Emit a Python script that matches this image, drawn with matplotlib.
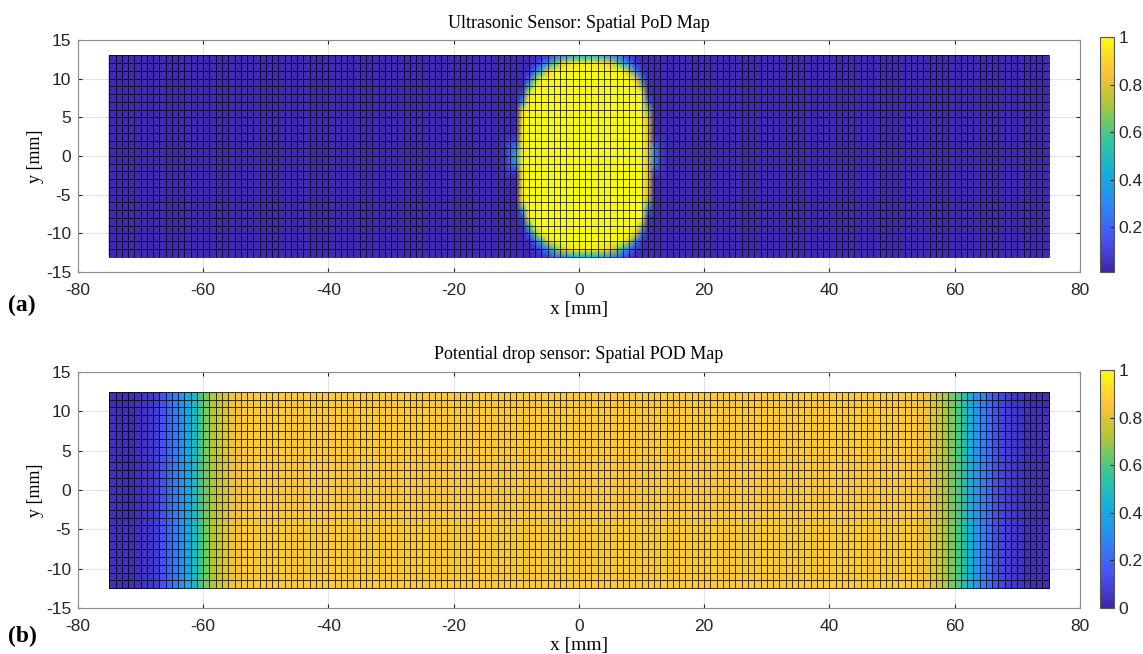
import numpy as np
import matplotlib
matplotlib.use("Agg")
import matplotlib.pyplot as plt
from matplotlib.colors import LinearSegmentedColormap
from matplotlib.collections import LineCollection
from matplotlib.ticker import FuncFormatter

plt.rcParams["axes.unicode_minus"] = False

# parula-like colour map (MATLAB default)
PARULA = LinearSegmentedColormap.from_list("parula", [
    (0.2422, 0.1504, 0.6603),
    (0.2810, 0.3228, 0.9579),
    (0.1786, 0.5289, 0.9682),
    (0.0689, 0.6948, 0.8394),
    (0.2161, 0.7843, 0.5923),
    (0.6720, 0.7793, 0.2227),
    (0.9970, 0.7659, 0.2199),
    (0.9769, 0.9839, 0.0805),
])

SERIF = "Liberation Serif"
SANS = "Liberation Sans"

# ---- (a) ultrasonic sensor: PoD on a 1 mm grid, x -75..75, y -13..13 ----
US_X_EDGES = np.arange(-75, 76)
US_Y_EDGES = np.arange(-13, 14)
US_BACKGROUND = 0.03
US_CLIM = (0.013, 1.0)
# half height of the yellow (PoD ~ 0.9) region for each grid column
BLOB_X = [-9, -8, -7, -6, -5, -4, -3, -2, -1, 0, 1, 2, 3, 4, 5, 6, 7, 8, 9, 10, 11]
BLOB_H = [6.0, 8.3, 9.5, 10.3, 10.9, 11.4, 11.7, 12.0, 12.1, 12.2, 12.2, 12.2, 12.2,
          12.1, 11.9, 11.6, 11.2, 10.7, 9.9, 8.6, 5.5]
BLOB_LEFT, BLOB_RIGHT = -9.3, 10.8
# PoD across the edge of the detection region (distance in mm, + inside)
EDGE_D = [-3.0, -2.0, -1.0, -0.4, 0.0, 0.6]
EDGE_POD = [US_BACKGROUND, 0.10, 0.35, 0.70, 0.92, 1.0]

# ---- (b) potential drop sensor: PoD per 1 mm column, x -75..75, y -12.5..12.5 ----
PD_X_EDGES = np.arange(-75, 76)
PD_Y_EDGES = np.arange(-12.5, 13.5)
PD_LEFT = [0.03, 0.03, 0.03, 0.03, 0.04, 0.05, 0.06, 0.08, 0.14, 0.20, 0.26,
           0.32, 0.40, 0.47, 0.58, 0.66, 0.72, 0.77, 0.80, 0.83, 0.85]
PD_MID = [0.87] * 108
PD_RIGHT = [0.85, 0.83, 0.80, 0.77, 0.72, 0.66, 0.60, 0.51, 0.42, 0.33, 0.27,
            0.20, 0.14, 0.10, 0.07, 0.06, 0.05, 0.04, 0.03, 0.03, 0.03]
PD_CLIM = (0.0, 1.0)


def us_map():
    xx, yy = np.meshgrid(US_X_EDGES, US_Y_EDGES)
    h = np.interp(xx, BLOB_X, BLOB_H, left=0, right=0)
    d = np.minimum(h - np.abs(yy), np.minimum(xx - BLOB_LEFT, BLOB_RIGHT - xx))
    return np.interp(d, EDGE_D, EDGE_POD)


def style_axes(ax, title):
    ax.set_xlim(-80, 80)
    ax.set_ylim(-15, 15)
    ax.set_xticks(range(-80, 81, 20))
    ax.set_yticks(range(-15, 16, 5))
    ax.grid(True, color="#e3e3e3", linewidth=0.8, zorder=0)
    ax.set_axisbelow(True)
    ax.tick_params(direction="in", length=3, top=True, right=True,
                   labelsize=12.5, colors="#262626")
    ax.tick_params(axis="x", pad=8)
    ax.tick_params(axis="y", pad=5)
    for lab in ax.get_xticklabels() + ax.get_yticklabels():
        lab.set_fontfamily(SANS)
    for sp in ax.spines.values():
        sp.set_color("#8c8c8c")
        sp.set_linewidth(0.8)
    ax.set_title(title, fontfamily=SERIF, fontsize=13, pad=9)
    ax.set_xlabel("x [mm]", fontfamily=SERIF, fontsize=14, labelpad=2)
    ax.set_ylabel("y [mm]", fontfamily=SERIF, fontsize=13, labelpad=1)


def draw_mesh(ax, xe, ye):
    segs = [[(x, ye[0]), (x, ye[-1])] for x in xe]
    segs += [[(xe[0], y), (xe[-1], y)] for y in ye]
    ax.add_collection(LineCollection(segs, colors="k", linewidths=0.7, alpha=0.75, zorder=3))


def style_cbar(cb, ticks):
    cb.set_ticks(ticks)
    cb.ax.yaxis.set_major_formatter(FuncFormatter(lambda v, p: "%g" % v))
    cb.ax.tick_params(direction="in", length=3, labelsize=12.5, colors="#262626")
    for lab in cb.ax.get_yticklabels():
        lab.set_fontfamily(SANS)
    cb.outline.set_edgecolor("#555555")
    cb.outline.set_linewidth(0.8)


fig = plt.figure(figsize=(11.43, 6.54), dpi=100)

ax1 = fig.add_axes([0.0682, 0.5841, 0.8766, 0.3547])
m1 = ax1.pcolormesh(US_X_EDGES, US_Y_EDGES, us_map(), shading="gouraud",
                    cmap=PARULA, vmin=US_CLIM[0], vmax=US_CLIM[1], zorder=2)
draw_mesh(ax1, US_X_EDGES, US_Y_EDGES)
style_axes(ax1, "Ultrasonic Sensor: Spatial PoD Map")
cax1 = fig.add_axes([0.9624, 0.5841, 0.0122, 0.3593])
style_cbar(fig.colorbar(m1, cax=cax1), [0.2, 0.4, 0.6, 0.8, 1.0])

pd_row = np.array(PD_LEFT + PD_MID + PD_RIGHT)
pd_map = np.tile(pd_row, (len(PD_Y_EDGES) - 1, 1))
ax2 = fig.add_axes([0.0682, 0.0703, 0.8766, 0.3609])
m2 = ax2.pcolormesh(PD_X_EDGES, PD_Y_EDGES, pd_map, shading="flat",
                    cmap=PARULA, vmin=PD_CLIM[0], vmax=PD_CLIM[1],
                    edgecolors=(0, 0, 0, 0.75), linewidth=0.7, zorder=2)
style_axes(ax2, "Potential drop sensor: Spatial POD Map")
cax2 = fig.add_axes([0.9624, 0.0703, 0.0122, 0.3640])
style_cbar(fig.colorbar(m2, cax=cax2), [0, 0.2, 0.4, 0.6, 0.8, 1.0])

fig.text(0.007, 0.533, "(a)", fontfamily=SERIF, fontsize=17, fontweight="bold", va="center")
fig.text(0.007, 0.027, "(b)", fontfamily=SERIF, fontsize=17, fontweight="bold", va="center")

fig.savefig("out.png", dpi=100)
